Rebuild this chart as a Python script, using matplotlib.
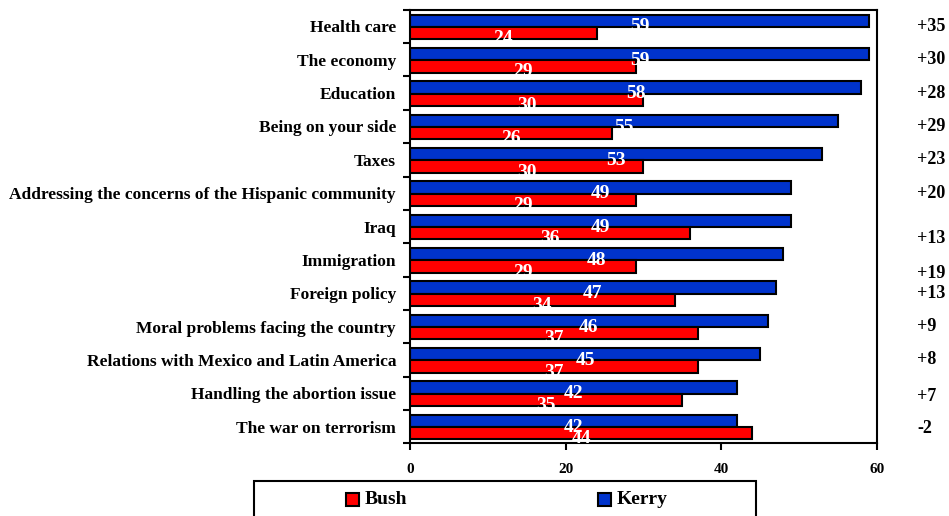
"""Kerry vs Bush: who would do a better job on each issue (horizontal bars)."""

import matplotlib

matplotlib.use("Agg")
import matplotlib.pyplot as plt  # noqa: E402
from matplotlib.patches import Rectangle  # noqa: E402
import numpy as np  # noqa: E402

issues = [
    "Health care",
    "The economy",
    "Education",
    "Being on your side",
    "Taxes",
    "Addressing the concerns of the Hispanic community",
    "Iraq",
    "Immigration",
    "Foreign policy",
    "Moral problems facing the country",
    "Relations with Mexico and Latin America",
    "Handling the abortion issue",
    "The war on terrorism",
]
kerry = [59, 59, 58, 55, 53, 49, 49, 48, 47, 46, 45, 42, 42]
bush = [24, 29, 30, 26, 30, 29, 36, 29, 34, 37, 37, 35, 44]
margin = ["+35", "+30", "+28", "+29", "+23", "+20", "+13", "+19", "+13", "+9", "+8", "+7", "-2"]
xticks = [0, 20, 40, 60]

# the margin column in the original is not quite aligned with the rows
margin_shift = [0, 0, 0, 0, 0, 0, 0.36, 0.42, 0, 0, 0, 0.1, 0.05]

BLUE = "#0033cc"
RED = "#ff0000"
SERIF = "Liberation Serif"

plt.rcParams["font.family"] = SERIF
plt.rcParams["font.weight"] = "bold"

fig = plt.figure(figsize=(9.49, 5.16), dpi=100)
ax = fig.add_axes([0.432, 0.141, 0.492, 0.840])

y = np.arange(len(issues))
h = 0.37
ax.barh(y - 0.17, kerry, height=h, color=BLUE, edgecolor="black", lw=1.5, zorder=2)
ax.barh(y + 0.2, bush, height=h, color=RED, edgecolor="black", lw=1.5, zorder=3)

for i in range(len(issues)):
    ax.text(kerry[i] / 2, i + 0.15, str(kerry[i]), color="white", fontsize=14,
            fontweight="bold", ha="center", va="baseline", zorder=5)
    ax.text(bush[i] / 2, i + 0.5, str(bush[i]), color="white", fontsize=14,
            fontweight="bold", ha="center", va="baseline", zorder=5)
    # margin column to the right of the plot
    ax.text(1.087, i + margin_shift[i], margin[i], transform=ax.get_yaxis_transform(),
            fontsize=13, fontweight="bold", ha="left", va="center", clip_on=False)

ax.set_xlim(0, 60)
ax.set_ylim(len(issues) - 0.5, -0.5)
ax.set_xticks(xticks)
ax.set_xticklabels([str(t) for t in xticks], fontsize=11, fontweight="bold")
ax.tick_params(axis="x", direction="out", length=5, width=1.5, pad=9)

# category labels at the centres, tick marks at the group boundaries
ax.set_yticks(y)
ax.set_yticklabels(issues, fontsize=12.5, fontweight="bold")
ax.tick_params(axis="y", which="major", length=0, pad=10)
ax.set_yticks(np.arange(len(issues) + 1) - 0.5, minor=True)
ax.tick_params(axis="y", which="minor", direction="out", length=5, width=1.5)

for s in ax.spines.values():
    s.set_linewidth(1.5)

# legend box, drawn by hand so it can run off the bottom edge like the original
fig.patches.append(Rectangle((254 / 949, -0.02), 502 / 949, 0.088, transform=fig.transFigure,
                             facecolor="white", edgecolor="black", lw=1.5))
for x0, name, col in [(346, "Bush", RED), (598, "Kerry", BLUE)]:
    fig.patches.append(Rectangle((x0 / 949, 10 / 516), 13 / 949, 13 / 516,
                                 transform=fig.transFigure, facecolor=col,
                                 edgecolor="black", lw=1.5))
    fig.text((x0 + 19) / 949, 16 / 516, name, fontsize=14, fontweight="bold",
             ha="left", va="center")

fig.savefig("out.png", dpi=100)
